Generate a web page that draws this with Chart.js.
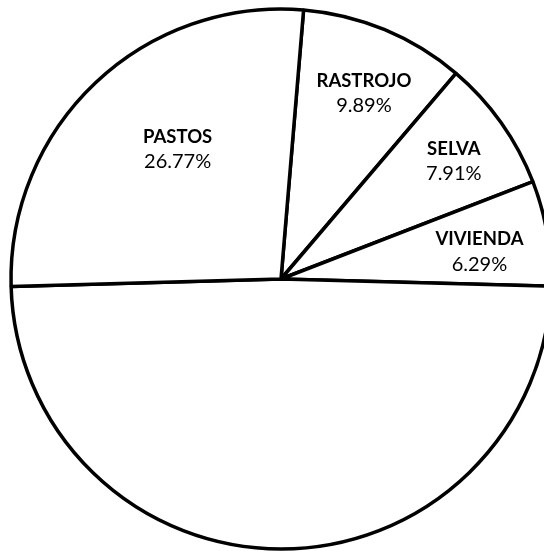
<!DOCTYPE html>
<html>
<head>
<meta charset="utf-8">
<script src="https://cdn.jsdelivr.net/npm/chart.js@4/dist/chart.umd.min.js"></script>
<style>
  html, body { margin: 0; padding: 0; background: #ffffff; }
  #wrap { position: relative; width: 544px; height: 551px; }
</style>
</head>
<body>
<div id="wrap"><canvas id="chart" width="544" height="551"></canvas></div>
<script>
// Land use shares (percent), clockwise from the top
const categories = ['RASTROJO', 'SELVA', 'VIVIENDA', '', 'PASTOS'];
const shares = [9.89, 7.91, 6.29, 49.14, 26.77];

// Label placement inside each slice: radius fraction and angular nudge (degrees)
const labelRadius = [0.754, 0.774, 0.742, 0, 0.614];
const labelNudge = [1.45, 1.15, 1.97, 0, 4.8];

const sliceLabels = {
  id: 'sliceLabels',
  afterDatasetsDraw(chart) {
    const ctx = chart.ctx;
    const meta = chart.getDatasetMeta(0);
    ctx.save();
    ctx.fillStyle = '#000000';
    ctx.textAlign = 'center';
    ctx.textBaseline = 'middle';
    meta.data.forEach((arc, i) => {
      if (!categories[i]) return;
      const p = arc.getProps(['x', 'y', 'startAngle', 'endAngle', 'outerRadius'], true);
      const mid = (p.startAngle + p.endAngle) / 2 + labelNudge[i] * Math.PI / 180;
      const r = p.outerRadius * labelRadius[i];
      const cx = p.x + Math.cos(mid) * r;
      const cy = p.y + Math.sin(mid) * r;
      ctx.font = 'bold 18.5px Lato';
      ctx.fillText(categories[i], cx, cy - 12.5);
      ctx.font = '20px Lato';
      ctx.fillText(shares[i].toFixed(2) + '%', cx, cy + 12.5);
    });
    ctx.restore();
  }
};

new Chart(document.getElementById('chart'), {
  type: 'pie',
  data: {
    labels: categories,
    datasets: [{
      data: shares,
      backgroundColor: '#ffffff',
      borderColor: '#000000',
      borderWidth: 3.5,
      clip: false
    }]
  },
  options: {
    responsive: false,
    animation: false,
    rotation: 4.8,
    radius: 270,
    layout: { padding: { left: 18, right: 0, top: 7, bottom: 0 } },
    plugins: {
      legend: { display: false },
      tooltip: { enabled: false }
    }
  },
  plugins: [sliceLabels]
});
</script>
</body>
</html>
